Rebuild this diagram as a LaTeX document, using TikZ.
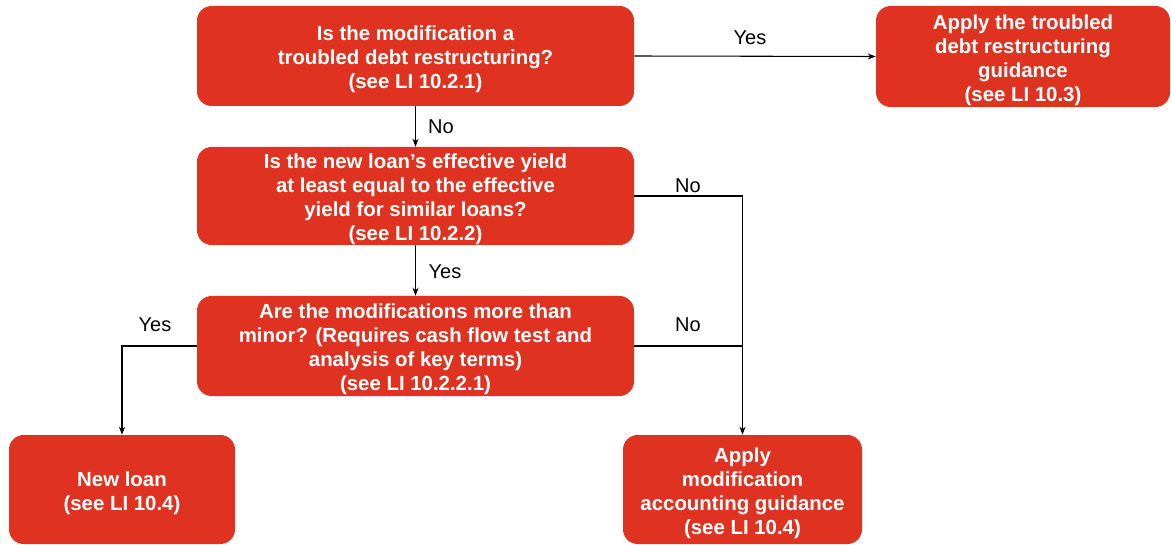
\documentclass[tikz,border=0pt]{standalone}
\usepackage{fontspec}
\setmainfont{Liberation Sans}
\usetikzlibrary{arrows.meta}
\definecolor{boxred}{HTML}{DF3220}
\newcommand{\topstrut}{\rule{0pt}{16pt}}
\tikzset{
  box/.style={rectangle, rounded corners=11pt, fill=boxred, draw=none, text=white,
    font=\fontsize{15.3pt}{18pt}\selectfont\bfseries, align=center, inner xsep=2pt, inner ysep=0pt},
  conn/.style={draw=black, line width=0.8pt},
  arr/.style={conn, -{Stealth[length=6pt,width=4.5pt]}},
  lbl/.style={font=\fontsize{15pt}{18pt}\selectfont, text=black, inner sep=0pt}
}
\begin{document}
\begin{tikzpicture}[x=0.75pt,y=-0.75pt]
\useasboundingbox (0,0) rectangle (1171,545);
\node[box, minimum width=437*0.75pt, minimum height=100*0.75pt] (A) at (415.5,56)
  {\topstrut Is the modification a\\troubled debt restructuring?\\(see LI 10.2.1)};
\node[box, minimum width=294*0.75pt, minimum height=101*0.75pt] (B) at (1023,56.5)
  {\topstrut Apply the troubled\\debt restructuring\\guidance\\(see LI 10.3)};
\node[box, minimum width=437*0.75pt, minimum height=98*0.75pt] (C) at (415.5,196)
  {\topstrut Is the new loan’s effective yield\\at least equal to the effective\\yield for similar loans?\\(see LI 10.2.2)};
\node[box, minimum width=437*0.75pt, minimum height=100*0.75pt] (D) at (415.5,346)
  {\topstrut Are the modifications more than\\minor? (Requires cash flow test and\\analysis of key terms)\\(see LI 10.2.2.1)};
\node[box, minimum width=226*0.75pt, minimum height=109*0.75pt] (E) at (122,489.5)
  {\topstrut New loan\\(see LI 10.4)};
\node[box, minimum width=239*0.75pt, minimum height=109*0.75pt] (F) at (742.5,489.5)
  {\topstrut Apply\\modification\\accounting guidance\\(see LI 10.4)};

\coordinate (j1) at (F.north |- C.east);
\coordinate (j2) at (F.north |- D.east);

\draw[arr] (A.east) -- (B.west);
\draw[arr] (A.south) -- (C.north);
\draw[arr] (C.south) -- (D.north);
\draw[conn] (C.east) -- (j1);
\draw[arr] (j1) -- (F.north);
\draw[conn] (D.east) -- (j2);
\draw[arr] (D.west) -| (E.north);

\node[lbl] (l1) at (750,38) {Yes};
\node[lbl] (l2) at (441,127) {No};
\node[lbl] (l3) at (688,186) {No};
\node[lbl] (l4) at (445,272) {Yes};
\node[lbl] (l5) at (688,325) {No};
\node[lbl] (l6) at (155,325) {Yes};
\end{tikzpicture}
\end{document}
